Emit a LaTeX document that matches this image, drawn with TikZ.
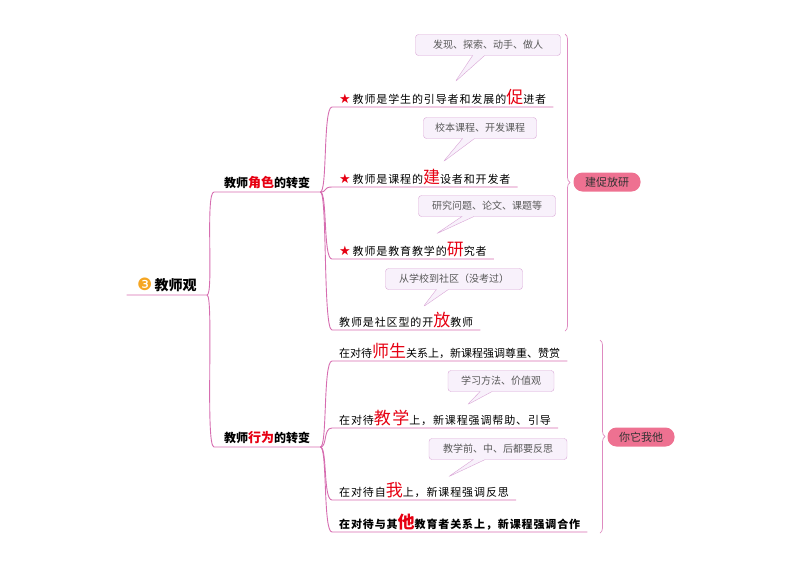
\documentclass[tikz,border=0pt]{standalone}
\usepackage{fontspec}
\setmainfont{Noto Sans CJK SC}
\newfontfamily\leaffont{Noto Sans CJK SC}[LetterSpace=8]
\newfontfamily\symfont{DejaVu Sans}
\usetikzlibrary{shapes.callouts,decorations.pathreplacing}
\definecolor{linkpink}{HTML}{D66DB0}
\definecolor{keyred}{HTML}{E60012}
\definecolor{notefill}{HTML}{F8F1FB}
\definecolor{notedraw}{HTML}{D9A6D6}
\definecolor{pillpink}{HTML}{EE7191}
\definecolor{numorange}{HTML}{F5A623}
\newcommand{\key}[1]{{\fontsize{17}{17}\selectfont\color{keyred}#1}}
\newcommand{\keyb}[1]{{\fontsize{13}{13}\selectfont\color{keyred}#1}}
\newcommand{\redstar}{{\symfont\fontsize{13}{13}\selectfont\color{keyred}★}\,}
\begin{document}
\begin{tikzpicture}[
    x=1pt, y=-1pt,
    link/.style={draw=linkpink, line width=0.9pt},
    rootnode/.style={font=\fontsize{14}{14}\selectfont\bfseries, minimum width=80pt, inner ysep=3pt, anchor=south east},
    branch/.style={font=\fontsize{12}{12}\selectfont\bfseries, inner xsep=10pt, inner ysep=3pt, anchor=south west},
    leaf/.style={font=\leaffont\fontsize{11}{11}\selectfont, inner xsep=7pt, inner ysep=2pt, anchor=south west},
    note/.style={rectangle callout, draw=notedraw, fill=notefill, rounded corners=3pt,
      font=\fontsize{10}{10}\selectfont, text=black!65, minimum height=21pt, callout pointer width=12pt},
    pill/.style={fill=pillpink, rounded corners=9pt, minimum width=67pt, minimum height=19pt,
      font=\fontsize{11}{11}\selectfont, text=black!80},
    brace/.style={draw=linkpink!80, line width=0.7pt, decorate, decoration={brace, amplitude=5pt}}]
    \useasboundingbox (0,0) rectangle (800,566);
    \node [rootnode] (root) at (207,295) {{\symfont\mdseries\fontsize{17}{17}\selectfont\color{numorange}❸}\,教师观};
    \node [branch] (b1) at (214,192) {教师\keyb{角色}的转变};
    \node [branch] (b2) at (214,447) {教师\keyb{行为}的转变};
    \node [leaf] (c1) at (332,107) {\redstar 教师是学生的引导者和发展的\key{促}进者};
    \node [leaf] (c2) at (332,187) {\redstar 教师是课程的\key{建}设者和开发者};
    \node [leaf] (c3) at (332,259) {\redstar 教师是教育教学的\key{研}究者};
    \node [leaf] (c4) at (332,330) {教师是社区型的开\key{放}教师};
    \node [leaf, font=\fontsize{11}{11}\selectfont] (d1) at (332,361) {在对待\key{师生}关系上，新课程强调尊重、赞赏};
    \node [leaf] (d2) at (332,428) {在对待\key{教学}上，新课程强调帮助、引导};
    \node [leaf] (d3) at (332,500) {在对待自\key{我}上，新课程强调反思};
    \node [leaf] (d4) at (332,532) {\bfseries 在对待与其\key{他}教育者关系上，新课程强调合作};
    \node [note, minimum width=145pt, callout absolute pointer={(455,82)}] (n1) at (488,45) {发现、探索、动手、做人};
    \node [note, minimum width=113pt, callout absolute pointer={(443,162)}] (n2) at (480,128) {校本课程、开发课程};
    \node [note, minimum width=137pt, callout absolute pointer={(436,234)}] (n3) at (487,206) {研究问题、论文、课题等};
    \node [note, minimum width=137pt, callout absolute pointer={(423,307)}] (n4) at (454,279) {从学校到社区（没考过）};
    \node [note, minimum width=106pt, callout absolute pointer={(467,405)}] (n5) at (501,381) {学习方法、价值观};
    \node [note, minimum width=138pt, callout absolute pointer={(448,477)}] (n6) at (498,449) {教学前、中、后都要反思};
    \node [pill] (p1) at (607,182) {建促放研};
    \node [pill] (p2) at (641,437) {你它我他};
    \coordinate (r1t) at (565,34);
    \coordinate (r1b) at (565,331);
    \coordinate (r2t) at (600,340);
    \coordinate (r2b) at (600,533);
    \draw [brace] (r1t) -- (r1b);
    \draw [brace] (r2t) -- (r2b);
    \draw [link] (root.south west) -- (root.south east) .. controls +(7,0) and +(-9,0) .. (b1.south west) -- (b1.south east);
    \draw [link] (root.south east) .. controls +(7,0) and +(-9,0) .. (b2.south west) -- (b2.south east);
    \draw [link] (b1.south east) .. controls +(7,0) and +(-9,0) .. (c1.south west) -- (c1.south east);
    \draw [link] (b1.south east) .. controls +(7,0) and +(-9,0) .. (c2.south west) -- (c2.south east);
    \draw [link] (b1.south east) .. controls +(7,0) and +(-9,0) .. (c3.south west) -- (c3.south east);
    \draw [link] (b1.south east) .. controls +(7,0) and +(-9,0) .. (c4.south west) -- (c4.south east);
    \draw [link] (b2.south east) .. controls +(7,0) and +(-9,0) .. (d1.south west) -- (d1.south east);
    \draw [link] (b2.south east) .. controls +(7,0) and +(-9,0) .. (d2.south west) -- (d2.south east);
    \draw [link] (b2.south east) .. controls +(7,0) and +(-9,0) .. (d3.south west) -- (d3.south east);
    \draw [link] (b2.south east) .. controls +(7,0) and +(-9,0) .. (d4.south west) -- (d4.south east);
\end{tikzpicture}
\end{document}
